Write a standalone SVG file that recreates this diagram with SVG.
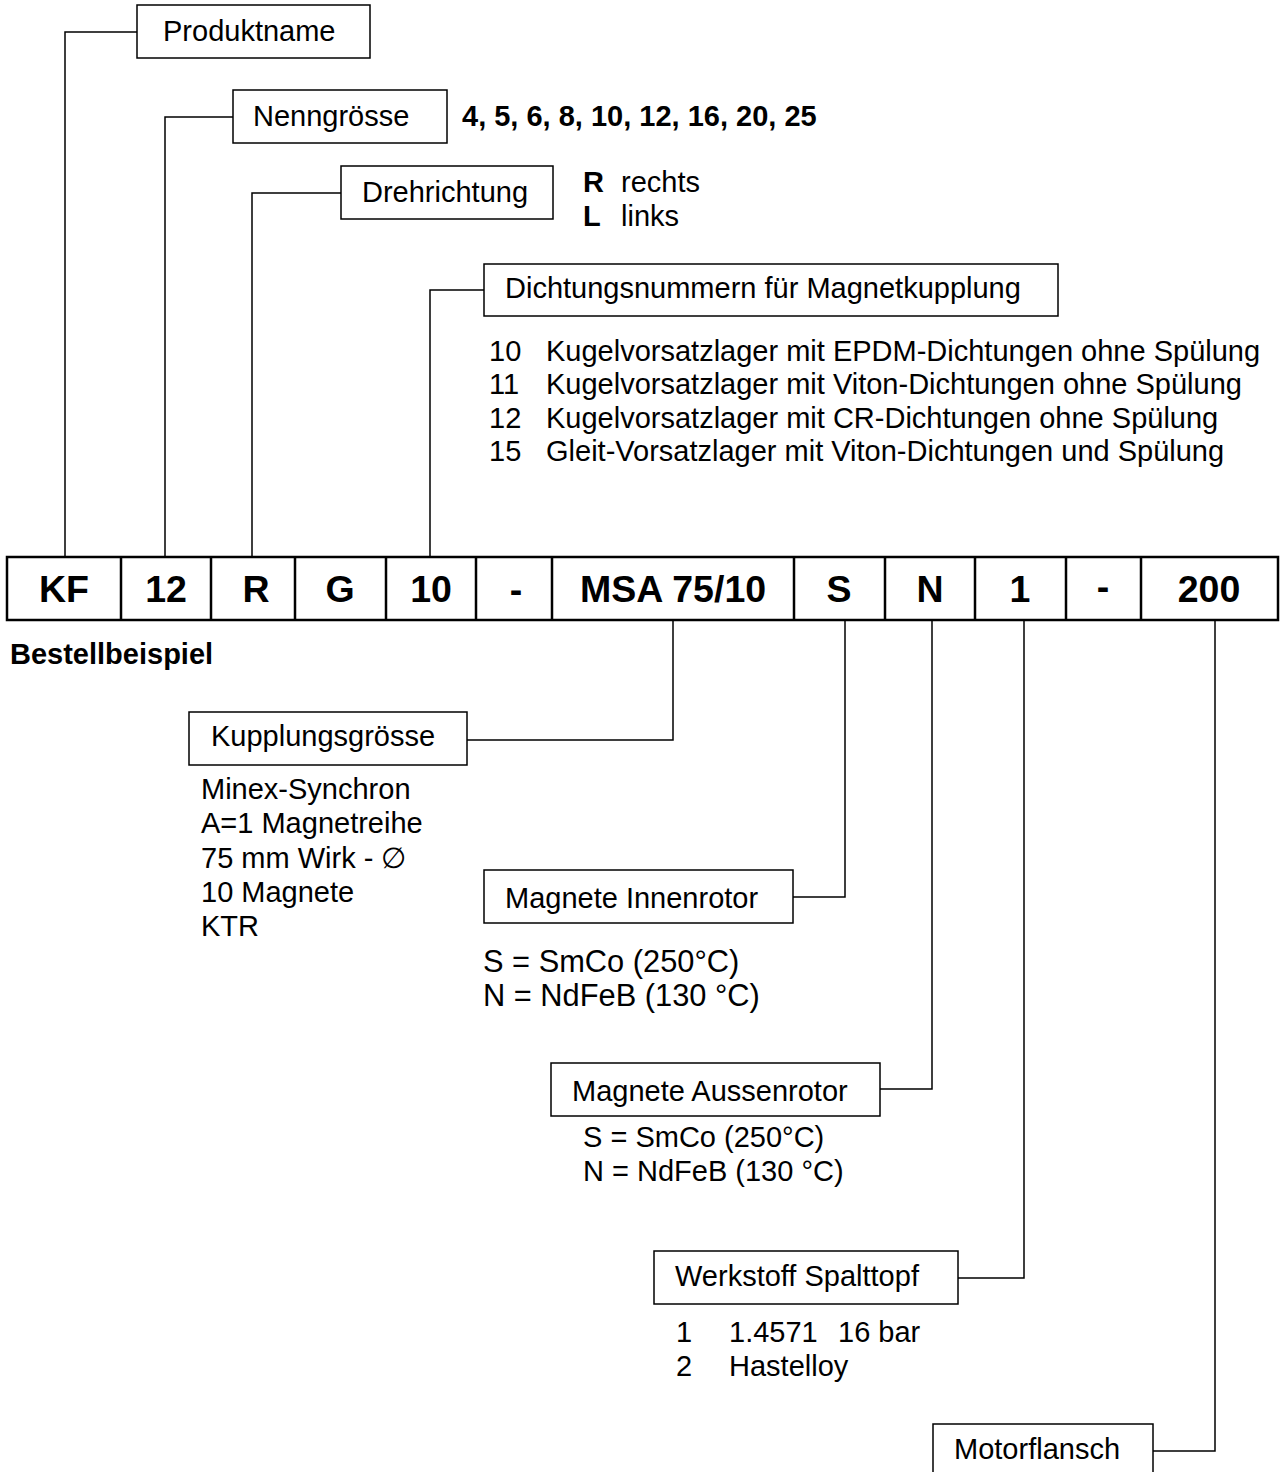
<svg xmlns="http://www.w3.org/2000/svg" width="1281" height="1472" viewBox="0 0 1281 1472">
<style>
text{font-family:"Liberation Sans",Arial,sans-serif;fill:#000}
.t{font-size:29px}
.t2{font-size:30.8px}
.b{font-size:29px;font-weight:bold}
.c{font-size:37.5px;font-weight:bold;text-anchor:middle}
.box{fill:#fff;stroke:#000;stroke-width:1.5}
.ln{fill:none;stroke:#000;stroke-width:1.5}
.row{fill:#fff;stroke:#000;stroke-width:2.5}
</style>
<rect width="1281" height="1472" fill="#fff"/>
<g id="connectors">
<path class="ln" d="M65,557 V32 H137"/>
<path class="ln" d="M165,557 V117 H233"/>
<path class="ln" d="M252,557 V193 H341"/>
<path class="ln" d="M430,557 V290 H484"/>
<path class="ln" d="M673,620 V740 H467"/>
<path class="ln" d="M845,620 V897 H793"/>
<path class="ln" d="M932,620 V1089 H880"/>
<path class="ln" d="M1024,620 V1278 H958"/>
<path class="ln" d="M1215,620 V1451 H1153"/>
</g>
<g id="code-row">
<rect class="row" x="7" y="557" width="1271" height="63"/>
<path class="ln" style="stroke-width:2.5" d="M121,557V620M211,557V620M295,557V620M386,557V620M476,557V620M552,557V620M794,557V620M885,557V620M975,557V620M1066,557V620M1141,557V620"/>
<text class="c" x="64" y="602">KF</text>
<text class="c" x="166" y="602">12</text>
<text class="c" x="256" y="602">R</text>
<text class="c" x="340" y="602">G</text>
<text class="c" x="431" y="602">10</text>
<text class="c" x="516" y="602">-</text>
<text class="c" x="673" y="602">MSA 75/10</text>
<text class="c" x="839" y="602">S</text>
<text class="c" x="930" y="602">N</text>
<text class="c" x="1020" y="602">1</text>
<text class="c" x="1103" y="599">-</text>
<text class="c" x="1209" y="602">200</text>
</g>
<text class="b" x="10" y="664">Bestellbeispiel</text>
<g id="produktname">
<rect class="box" x="137" y="5" width="233" height="53"/>
<text class="t" x="163" y="41">Produktname</text>
</g>
<g id="nenngroesse">
<rect class="box" x="233" y="90" width="214" height="53"/>
<text class="t" x="253" y="126">Nenngrösse</text>
<text class="b" x="462" y="126">4, 5, 6, 8, 10, 12, 16, 20, 25</text>
</g>
<g id="drehrichtung">
<rect class="box" x="341" y="166" width="212" height="53"/>
<text class="t" x="362" y="202">Drehrichtung</text>
<text x="583" y="192"><tspan class="b">R</tspan><tspan class="t" x="621">rechts</tspan></text>
<text x="583" y="226"><tspan class="b">L</tspan><tspan class="t" x="621">links</tspan></text>
</g>
<g id="dichtung">
<rect class="box" x="484" y="264" width="574" height="52"/>
<text class="t" x="505" y="298">Dichtungsnummern für Magnetkupplung</text>
<text class="t" x="489" y="361">10<tspan x="546">Kugelvorsatzlager mit EPDM-Dichtungen ohne Spülung</tspan></text>
<text class="t" x="489" y="394">11<tspan x="546">Kugelvorsatzlager mit Viton-Dichtungen ohne Spülung</tspan></text>
<text class="t" x="489" y="428">12<tspan x="546">Kugelvorsatzlager mit CR-Dichtungen ohne Spülung</tspan></text>
<text class="t" x="489" y="461">15<tspan x="546">Gleit-Vorsatzlager mit Viton-Dichtungen und Spülung</tspan></text>
</g>
<g id="kupplungsgroesse">
<rect class="box" x="189" y="712" width="278" height="53"/>
<text class="t" x="211" y="746">Kupplungsgrösse</text>
<text class="t" x="201" y="799">Minex-Synchron</text>
<text class="t" x="201" y="833">A=1 Magnetreihe</text>
<text class="t" x="201" y="868">75 mm Wirk - ∅</text>
<text class="t" x="201" y="902">10 Magnete</text>
<text class="t" x="201" y="936">KTR</text>
</g>
<g id="innenrotor">
<rect class="box" x="484" y="870" width="309" height="53"/>
<text class="t" x="505" y="908">Magnete Innenrotor</text>
<text class="t2" x="483" y="972">S = SmCo (250°C)</text>
<text class="t2" x="483" y="1006">N = NdFeB (130 °C)</text>
</g>
<g id="aussenrotor">
<rect class="box" x="551" y="1063" width="329" height="53"/>
<text class="t" x="572" y="1101">Magnete Aussenrotor</text>
<text class="t" x="583" y="1147">S = SmCo (250°C)</text>
<text class="t" x="583" y="1181">N = NdFeB (130 °C)</text>
</g>
<g id="spalttopf">
<rect class="box" x="654" y="1251" width="304" height="53"/>
<text class="t" x="675" y="1286">Werkstoff Spalttopf</text>
<text class="t" x="676" y="1342">1<tspan x="729">1.4571</tspan><tspan x="838">16 bar</tspan></text>
<text class="t" x="676" y="1376">2<tspan x="729">Hastelloy</tspan></text>
</g>
<g id="motorflansch">
<rect class="box" x="933" y="1424" width="220" height="52"/>
<text class="t" x="954" y="1459">Motorflansch</text>
</g>
</svg>
